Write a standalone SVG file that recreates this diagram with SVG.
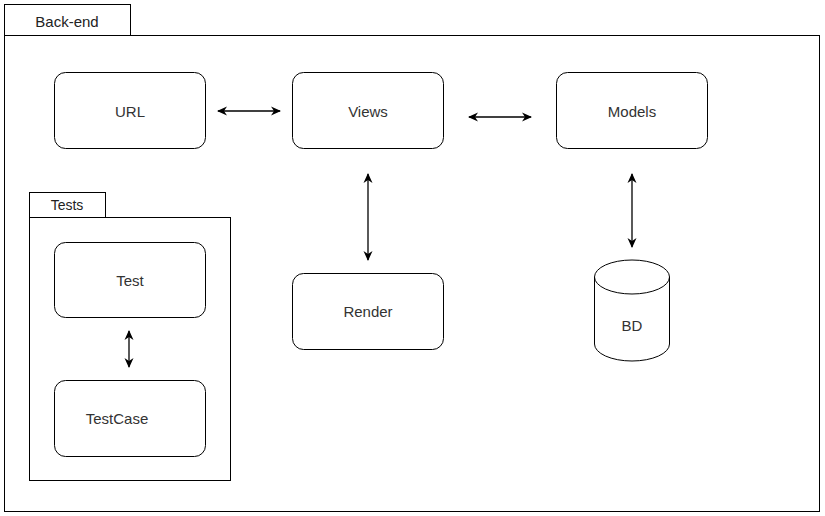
<svg xmlns="http://www.w3.org/2000/svg" width="825" height="516" viewBox="0 0 825 516">
  <defs>
    <marker id="arrow" viewBox="0 0 10 10" refX="9" refY="5" markerWidth="10" markerHeight="10" orient="auto-start-reverse" markerUnits="userSpaceOnUse">
      <path d="M0,0.5 L10,5 L0,9.5 L3,5 Z" fill="#000"/>
    </marker>
    <style>
      .frame { fill: #fff; stroke: #000; stroke-width: 1; }
      .box { fill: #fff; stroke: #000; stroke-width: 1; }
      .label { font-family: "Liberation Sans", Arial, sans-serif; font-size: 15px; fill: #333; text-anchor: middle; dominant-baseline: central; }
      .tab { font-family: "Liberation Sans", Arial, sans-serif; font-size: 15px; fill: #222; text-anchor: middle; dominant-baseline: central; }
      .link { fill: none; stroke: #000; stroke-width: 1.3; marker-start: url(#arrow); marker-end: url(#arrow); }
    </style>
  </defs>
  <rect width="825" height="516" fill="#fff"/>

  <!-- Back-end package -->
  <g id="backend">
    <rect class="frame" x="4.5" y="4.5" width="126" height="31"/>
    <rect class="frame" x="4.5" y="35.5" width="815" height="476"/>
    <text class="tab" x="67" y="21">Back-end</text>
  </g>

  <!-- Tests package -->
  <g id="tests">
    <rect class="frame" x="29.5" y="192.5" width="76" height="25"/>
    <rect class="frame" x="29.5" y="217.5" width="201" height="263"/>
    <text class="tab" x="67" y="205" style="font-size:14px">Tests</text>
  </g>

  <g id="url">
    <rect class="box" x="54.5" y="72.5" width="151" height="76" rx="11"/>
    <text class="label" x="130" y="111">URL</text>
  </g>
  <g id="views">
    <rect class="box" x="292.5" y="72.5" width="151" height="76" rx="11"/>
    <text class="label" x="368" y="111">Views</text>
  </g>
  <g id="models">
    <rect class="box" x="556.5" y="72.5" width="151" height="76" rx="11"/>
    <text class="label" x="632" y="111">Models</text>
  </g>
  <g id="render">
    <rect class="box" x="292.5" y="273.5" width="151" height="76" rx="11"/>
    <text class="label" x="368" y="311">Render</text>
  </g>
  <g id="bd">
    <path class="box" d="M594.5,277 A37.5,17 0 0 1 669.5,277 L669.5,344 A37.5,17 0 0 1 594.5,344 Z"/>
    <path fill="none" stroke="#000" stroke-width="1" d="M594.5,277 A37.5,17 0 0 0 669.5,277"/>
    <text class="label" x="632" y="325">BD</text>
  </g>
  <g id="test">
    <rect class="box" x="54.5" y="242.5" width="151" height="75" rx="11"/>
    <text class="label" x="130" y="280">Test</text>
  </g>
  <g id="testcase">
    <rect class="box" x="54.5" y="380.5" width="151" height="76" rx="11"/>
    <text class="label" x="117" y="418">TestCase</text>
  </g>

  <!-- Connectors -->
  <g id="connectors">
    <line class="link" x1="218" y1="111" x2="280" y2="111"/>
    <line class="link" x1="469" y1="117" x2="531" y2="117"/>
    <line class="link" x1="368" y1="174" x2="368" y2="260"/>
    <line class="link" x1="632" y1="174" x2="632" y2="247"/>
    <line class="link" x1="129" y1="331" x2="129" y2="367"/>
  </g>
</svg>
